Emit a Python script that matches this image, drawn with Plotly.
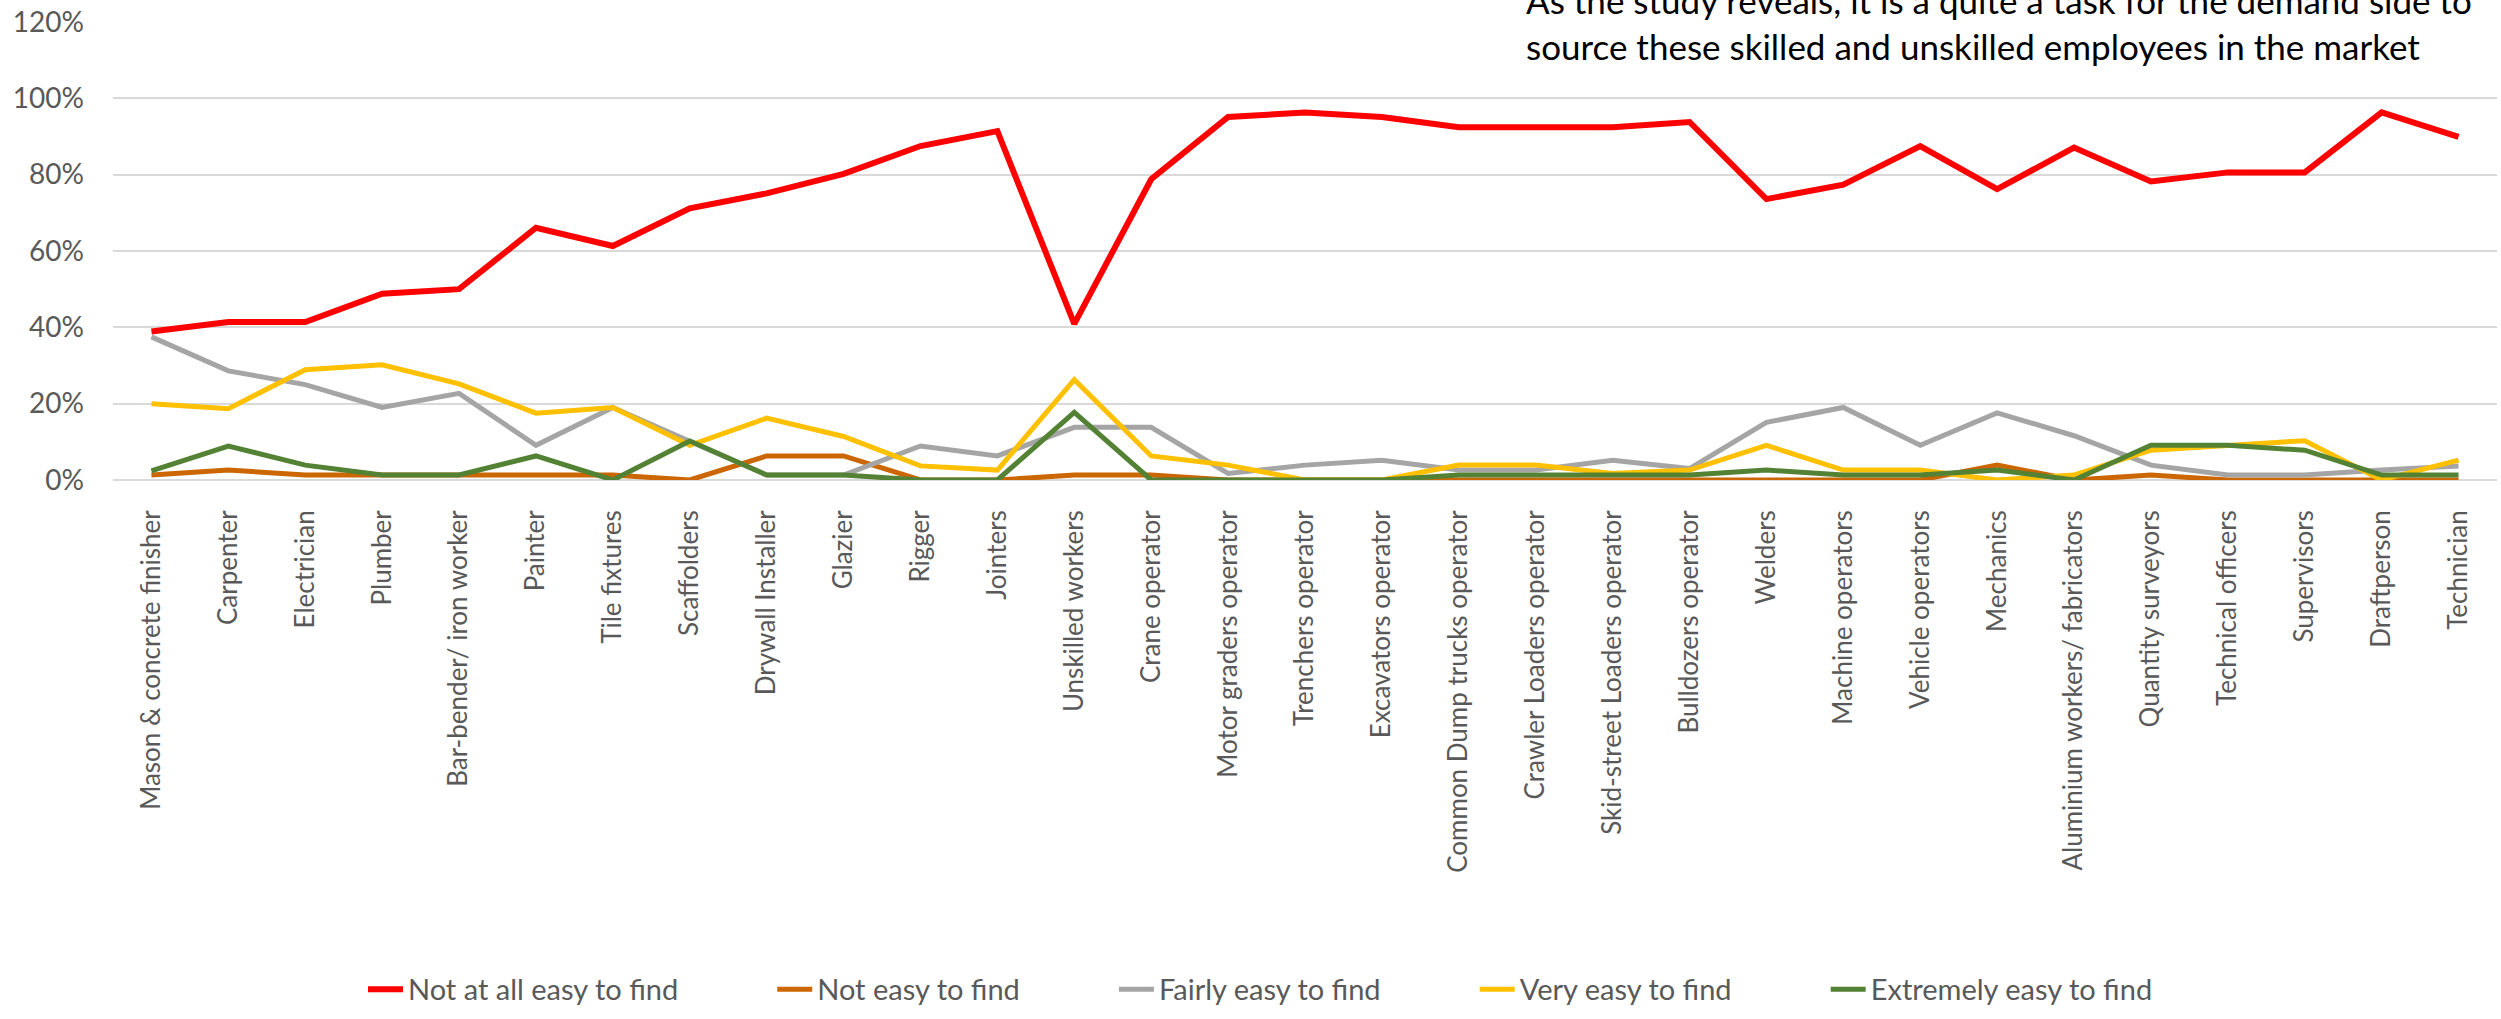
import plotly.graph_objects as go

categorias = [
    "Mason & concrete finisher", "Carpenter", "Electrician", "Plumber",
    "Bar-bender/ iron worker", "Painter", "Tile fixtures", "Scaffolders",
    "Drywall Installer", "Glazier", "Rigger", "Jointers", "Unskilled workers",
    "Crane operator", "Motor graders operator", "Trenchers operator",
    "Excavators operator", "Common Dump trucks operator",
    "Crawler Loaders operator", "Skid-street Loaders operator",
    "Bulldozers operator", "Welders", "Machine operators", "Vehicle operators",
    "Mechanics", "Aluminium workers/ fabricators", "Quantity surveyors",
    "Technical officers", "Supervisors", "Draftperson", "Technician",
]

not_at_all_easy = [38.9, 41.4, 41.4, 48.8, 50.0, 66.1, 61.3, 71.2, 75.1, 80.2, 87.5,
                   91.4, 40.9, 78.8, 95.1, 96.3, 95.1, 92.4, 92.4, 92.4, 93.8, 73.6,
                   77.4, 87.5, 76.2, 87.1, 78.2, 80.6, 80.6, 96.3, 89.9]
not_easy = [1.3, 2.6, 1.3, 1.3, 1.3, 1.3, 1.3, 0, 6.3, 6.3, 0, 0, 1.3, 1.3, 0, 0,
            0, 0, 0, 0, 0, 0, 0, 0, 3.9, 0, 1.3, 0, 0, 0, 0]
fairly_easy = [37.5, 28.6, 25.0, 19.0, 22.7, 9.1, 19.0, 10.3, 1.3, 1.3, 8.9, 6.3,
               13.8, 13.8, 1.7, 3.9, 5.2, 2.6, 2.6, 5.2, 3.0, 15.1, 19.0, 9.1,
               17.6, 11.6, 3.9, 1.3, 1.3, 2.6, 3.7]
very_easy = [20.0, 18.7, 28.9, 30.2, 25.2, 17.5, 19.0, 9.1, 16.2, 11.4, 3.7, 2.6,
             26.3, 6.3, 3.9, 0, 0, 3.9, 3.9, 1.7, 2.6, 9.1, 2.6, 2.6, 0, 1.3, 7.8,
             9.1, 10.3, 0, 5.2]
extremely_easy = [2.4, 8.9, 3.9, 1.3, 1.3, 6.3, 0, 10.2, 1.3, 1.3, 0, 0, 17.7, 0,
                  0, 0, 0, 1.3, 1.3, 1.3, 1.3, 2.6, 1.3, 1.3, 2.6, 0, 9.1, 9.1,
                  7.8, 1.3, 1.3]

series = [
    ("Not at all easy to find", not_at_all_easy, "#FF0000", 6),
    ("Not easy to find", not_easy, "#CC6600", 5),
    ("Fairly easy to find", fairly_easy, "#A5A5A5", 5),
    ("Very easy to find", very_easy, "#FFC000", 5),
    ("Extremely easy to find", extremely_easy, "#548235", 5),
]

FUENTE = "Lato"
GRIS = "#595959"

fig = go.Figure()
for nombre, valores, color, ancho in series:
    fig.add_trace(go.Scatter(
        x=categorias, y=valores, name=nombre + "\u00a0" * 12, mode="lines",
        line=dict(color=color, width=ancho),
    ))

# recuadro blanco con el texto arriba a la derecha
fig.add_shape(type="rect", xref="paper", yref="paper",
              x0=0.5831, x1=0.9975, y0=0.88, y1=1.08,
              fillcolor="white", line_width=0, layer="above")
fig.add_annotation(
    text="As the study reveals, it is a quite a task for the demand side to<br>"
         "source these skilled and unskilled employees in the market",
    xref="paper", yref="paper", x=0.5919, y=0.997,
    xanchor="left", yanchor="middle", align="left", showarrow=False,
    font=dict(family=FUENTE, size=35, color="black"),
)

fig.update_layout(
    width=2501, height=1019,
    margin=dict(l=113, r=4, t=19, b=534),
    plot_bgcolor="white", paper_bgcolor="white",
    font=dict(family=FUENTE, color=GRIS),
    showlegend=True,
    legend=dict(orientation="h", x=0.5, xanchor="center", y=-1.112,
                yanchor="middle", font=dict(size=29, color=GRIS),
                itemwidth=35),
)
fig.update_xaxes(
    type="category", range=[-0.5, 30.5], tickangle=-90,
    tickfont=dict(size=26, color=GRIS), showgrid=False,
    showline=False, ticks="", ticklabelstandoff=24,
)
fig.update_yaxes(
    range=[0, 120], dtick=20, ticksuffix="%",
    tickfont=dict(size=28, color=GRIS),
    showgrid=True, gridcolor="#D9D9D9", gridwidth=2,
    zeroline=True, zerolinecolor="#D9D9D9", zerolinewidth=2,
    showline=False, ticks="", ticklabelstandoff=28,
)

fig.write_html("out.html", config={"displayModeBar": False},
               post_script="document.body.style.margin='0';")
